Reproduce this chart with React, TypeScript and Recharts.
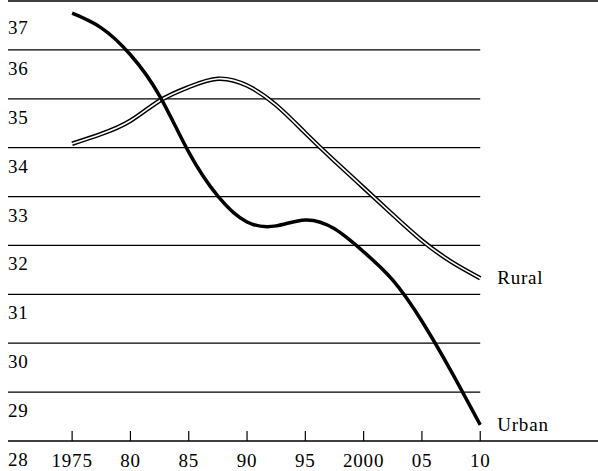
import { LineChart, Line, XAxis, YAxis, ReferenceLine, LabelList } from 'recharts';

document.body.style.margin = '0';

const years = [1975, 1977.5, 1980, 1982.5, 1985, 1987.5, 1990, 1992.5, 1995, 1997.5, 2000, 2002.5, 2005, 2007.5, 2010];
const urban = [36.75, 36.45, 35.9, 35.06, 33.91, 33.01, 32.48, 32.4, 32.52, 32.34, 31.87, 31.29, 30.45, 29.43, 28.33];
const rural = [34.08, 34.28, 34.55, 34.96, 35.24, 35.41, 35.27, 34.87, 34.3, 33.73, 33.18, 32.63, 32.1, 31.67, 31.33];

const xTicks = [1975, 1980, 1985, 1990, 1995, 2000, 2005, 2010];
const xTickLabels = ['1975', '80', '85', '90', '95', '2000', '05', '10'];
const yTicks = [28, 29, 30, 31, 32, 33, 34, 35, 36, 37];
const gridValues = [29, 30, 31, 32, 33, 34, 35, 36];

const data = years.map((year, i) => ({ year, urban: urban[i], rural: rural[i] }));

const FONT = '"Liberation Serif", "Times New Roman", serif';
const X_MIN = 1969.5;
const X_MAX = 2020.1;

const XTick = (props: any) => {
  const { x, y, payload } = props;
  const idx = xTicks.indexOf(payload.value);
  return (
    <g>
      <line x1={x} x2={x} y1={y - 10} y2={y} stroke="#000" strokeWidth={1.2} />
      <text x={x} y={y + 26} textAnchor="middle" fontFamily={FONT} fontSize={19} letterSpacing={0.8} fill="#000">
        {xTickLabels[idx]}
      </text>
    </g>
  );
};

const YTick = (props: any) => {
  const { y, payload } = props;
  return (
    <text x={8} y={y + 25} textAnchor="start" fontFamily={FONT} fontSize={19} letterSpacing={0.8} fill="#000">
      {payload.value}
    </text>
  );
};

const endLabel = (name: string) => (props: any) => {
  const { x, y, index } = props;
  if (index !== years.length - 1) return null;
  return (
    <text x={x + 17} y={y + 6} fontFamily={FONT} fontSize={19} letterSpacing={0.8} fill="#000">
      {name}
    </text>
  );
};

export default function App() {
  return (
    <LineChart width={598} height={471} data={data} margin={{ top: 1, right: 0, left: 0, bottom: 0 }}>
      <XAxis
        dataKey="year"
        type="number"
        domain={[X_MIN, X_MAX]}
        ticks={xTicks}
        tick={<XTick />}
        tickLine={false}
        tickSize={0}
        tickMargin={0}
        axisLine={{ stroke: '#000', strokeWidth: 1.5 }}
        height={30}
        allowDataOverflow
      />
      <YAxis
        type="number"
        domain={[28, 37]}
        ticks={yTicks}
        tick={<YTick />}
        tickLine={false}
        axisLine={false}
        width={8}
        allowDataOverflow
      />
      <ReferenceLine y={37} stroke="#000" strokeWidth={1.5} />
      {gridValues.map((v) => (
        <ReferenceLine
          key={v}
          segment={[{ x: X_MIN, y: v }, { x: 2010, y: v }]}
          stroke="#000"
          strokeWidth={1.3}
        />
      ))}
      <Line
        dataKey="rural"
        type="natural"
        stroke="#000"
        strokeWidth={4.5}
        dot={false}
        isAnimationActive={false}
      >
        <LabelList dataKey="rural" content={endLabel('Rural')} />
      </Line>
      <Line
        dataKey="rural"
        type="natural"
        stroke="#fff"
        strokeWidth={1.6}
        dot={false}
        isAnimationActive={false}
      />
      <Line
        dataKey="urban"
        type="natural"
        stroke="#000"
        strokeWidth={3.5}
        dot={false}
        isAnimationActive={false}
      >
        <LabelList dataKey="urban" content={endLabel('Urban')} />
      </Line>
    </LineChart>
  );
}
